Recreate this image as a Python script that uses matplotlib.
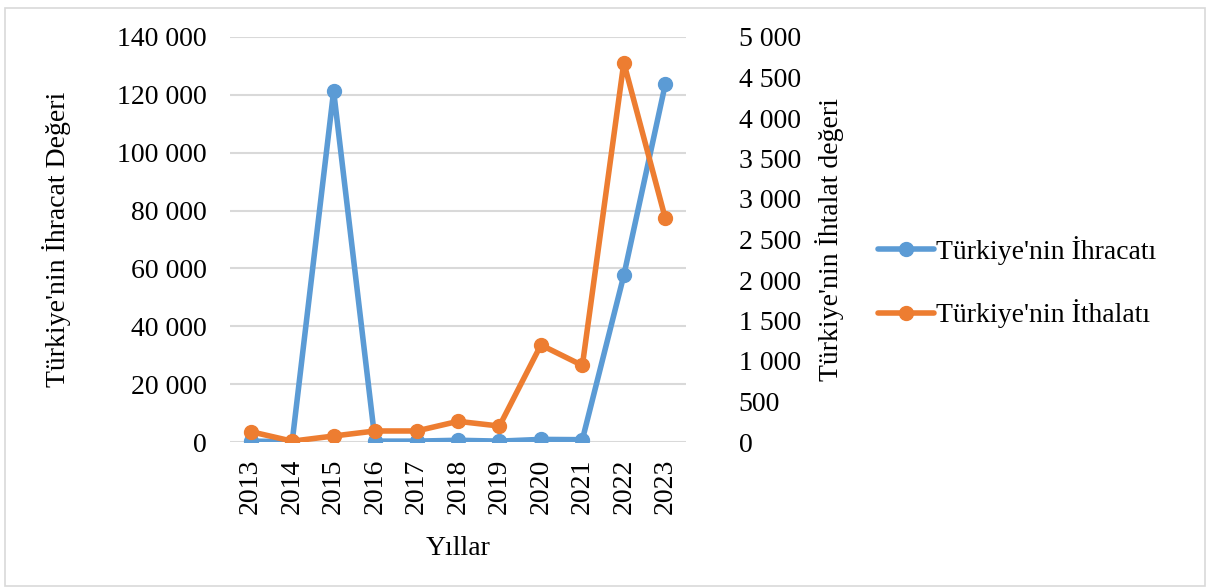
import matplotlib
matplotlib.use("Agg")
import matplotlib.pyplot as plt
from matplotlib.ticker import FuncFormatter, MultipleLocator
from matplotlib.patches import Rectangle

years = ["2013", "2014", "2015", "2016", "2017", "2018", "2019", "2020", "2021", "2022", "2023"]
ihracat = [300, 100, 121300, 300, 300, 600, 300, 900, 800, 57600, 123650]
ithalat = [128, 10, 74, 136, 136, 255, 197, 1198, 945, 4683, 2762]

blue = "#5B9BD5"
orange = "#ED7D31"
grid_c = "#D9D9D9"
font = "Liberation Serif"
fs = 20

plt.rcParams["font.family"] = [font, "DejaVu Serif"]

fig = plt.figure(figsize=(12.1, 5.88), dpi=100)
fig.patches.append(Rectangle((0.004, 0.004), 0.992, 0.982, transform=fig.transFigure,
                             fill=False, edgecolor=grid_c, linewidth=1.2))

W, H = 1210, 588
left, right, top, bottom = 230, 686, 37, 442
ax = fig.add_axes([left / W, 1 - bottom / H, (right - left) / W, (bottom - top) / H])
ax2 = ax.twinx()

x = list(range(len(years)))
l1, = ax.plot(x, ihracat, color=blue, lw=4.0, marker="o", ms=10, solid_capstyle="round",
              label="Türkiye'nin İhracatı", zorder=3)
l2, = ax2.plot(x, ithalat, color=orange, lw=4.0, marker="o", ms=10, solid_capstyle="round",
               label="Türkiye'nin İthalatı", zorder=3)

ax.set_xlim(-0.5, len(years) - 0.5)
ax.set_ylim(0, 140000)
ax2.set_ylim(0, 5000)
ax.yaxis.set_major_locator(MultipleLocator(20000))
ax2.yaxis.set_major_locator(MultipleLocator(500))

def spc(v, pos):
    return f"{int(round(v)):,}".replace(",", " ")

ax.yaxis.set_major_formatter(FuncFormatter(spc))
ax2.yaxis.set_major_formatter(FuncFormatter(spc))

ax.set_xticks(x)
ax.set_xticklabels(years, rotation=90, fontsize=fs)
ax.tick_params(axis="x", length=0, pad=12)
ax.tick_params(axis="y", length=0, pad=17, labelsize=fs)
ax2.tick_params(axis="y", length=0, pad=38, labelsize=fs)

for a in (ax, ax2):
    for s in a.spines.values():
        s.set_visible(False)

ax.grid(axis="y", color=grid_c, lw=1.5, zorder=0)
ax.set_axisbelow(True)

ax.set_xlabel("Yıllar", fontsize=fs, labelpad=16)
ax.set_ylabel("Türkiye'nin İhracat Değeri", fontsize=fs, labelpad=33)
ax2.set_ylabel("Türkiye'nin İhtalat değeri", fontsize=fs, labelpad=10)

fig.legend(handles=[l1, l2], loc="center left", bbox_to_anchor=(867 / W, 1 - 282 / H),
           frameon=False, fontsize=fs, handlelength=2.0, handletextpad=0.1,
           labelspacing=1.25, borderaxespad=0)

fig.savefig("out.png", dpi=100)
